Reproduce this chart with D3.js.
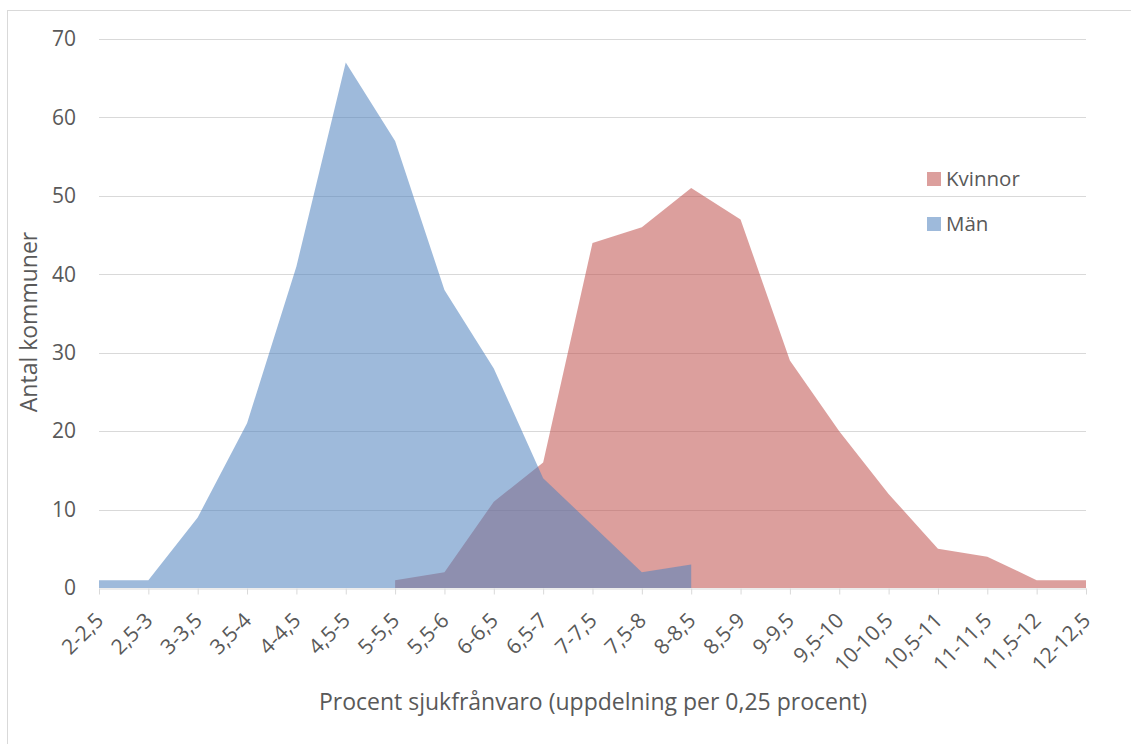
<!DOCTYPE html>
<html><head><meta charset="utf-8">
<script src="https://cdn.jsdelivr.net/npm/d3@7"></script>
<style>body{margin:0;background:#fff;overflow:hidden;} text{font-family:"Open Sans","Lato",sans-serif;fill:#595959;}</style>
</head><body><svg id="c" width="1131" height="744"></svg>
<script>
const categories = ["2-2,5","2,5-3","3-3,5","3,5-4","4-4,5","4,5-5","5-5,5","5,5-6","6-6,5","6,5-7","7-7,5","7,5-8","8-8,5","8,5-9","9-9,5","9,5-10","10-10,5","10,5-11","11-11,5","11,5-12","12-12,5"];
const kvinnor = [null,null,null,null,null,null,1,2,11,16,44,46,51,47,29,20,12,5,4,1,1];
const man = [1,1,9,21,41,67,57,38,28,14,8,2,3,null,null,null,null,null,null,null,null];
const yTicks = [0,10,20,30,40,50,60,70];

const svg = d3.select("#c");
svg.append("rect").attr("x",7.5).attr("y",10.5).attr("width",1200).attr("height",800).attr("fill","#fff").attr("stroke","#d9d9d9");

const x = d3.scalePoint().domain(categories).range([99,1086]);
const y = d3.scaleLinear().domain([0,70]).range([588,39]);

// gridlines
svg.append("g").selectAll("line").data(yTicks.filter(d=>d>0)).join("line")
  .attr("x1",99).attr("x2",1086).attr("y1",d=>Math.round(y(d))+0.5).attr("y2",d=>Math.round(y(d))+0.5)
  .attr("stroke","#d9d9d9").attr("stroke-width",1);

const area = (vals) => d3.area()
  .defined(d=>d.v!==null)
  .x(d=>x(d.c)).y0(y(0)).y1(d=>y(d.v))(categories.map((c,i)=>({c,v:vals[i]})));

svg.append("path").attr("d",area(kvinnor)).attr("fill","#C0504D").attr("fill-opacity",0.55);
svg.append("path").attr("d",area(man)).attr("fill","#4F81BD").attr("fill-opacity",0.55);

// x axis
const xa = svg.append("g").attr("transform","translate(0,588.5)")
  .call(d3.axisBottom(x).tickSize(6).tickSizeOuter(0).tickPadding(6));
xa.select(".domain").attr("stroke","#d9d9d9");
xa.selectAll(".tick line").attr("stroke","#d9d9d9");
xa.selectAll(".tick text").attr("font-size",21).attr("fill","#595959")
  .attr("text-anchor","end").attr("dy","0.35em")
  .attr("transform","translate(0,28) rotate(-45)").attr("x",0).attr("y",0);

// y axis labels
const ya = svg.append("g").attr("transform","translate(99,0)")
  .call(d3.axisLeft(y).tickValues(yTicks).tickSize(0).tickPadding(23));
ya.select(".domain").remove();
ya.selectAll(".tick text").attr("font-size",21).attr("fill","#595959");

svg.append("text").attr("x",593).attr("y",710).attr("text-anchor","middle").attr("font-size",23).text("Procent sjukfrånvaro (uppdelning per 0,25 procent)");
svg.append("text").attr("transform","translate(37,322) rotate(-90)").attr("text-anchor","middle").attr("font-size",23).text("Antal kommuner");

// legend
const leg = [{n:"Kvinnor",c:"#C0504D"},{n:"Män",c:"#4F81BD"}];
const lg = svg.append("g").selectAll("g").data(leg).join("g").attr("transform",(d,i)=>`translate(927,${172+i*45})`);
lg.append("rect").attr("width",14).attr("height",14).attr("fill",d=>d.c).attr("fill-opacity",0.55);
lg.append("text").attr("x",19).attr("y",7).attr("dy","0.35em").attr("font-size",20.5).text(d=>d.n);
</script></body></html>
